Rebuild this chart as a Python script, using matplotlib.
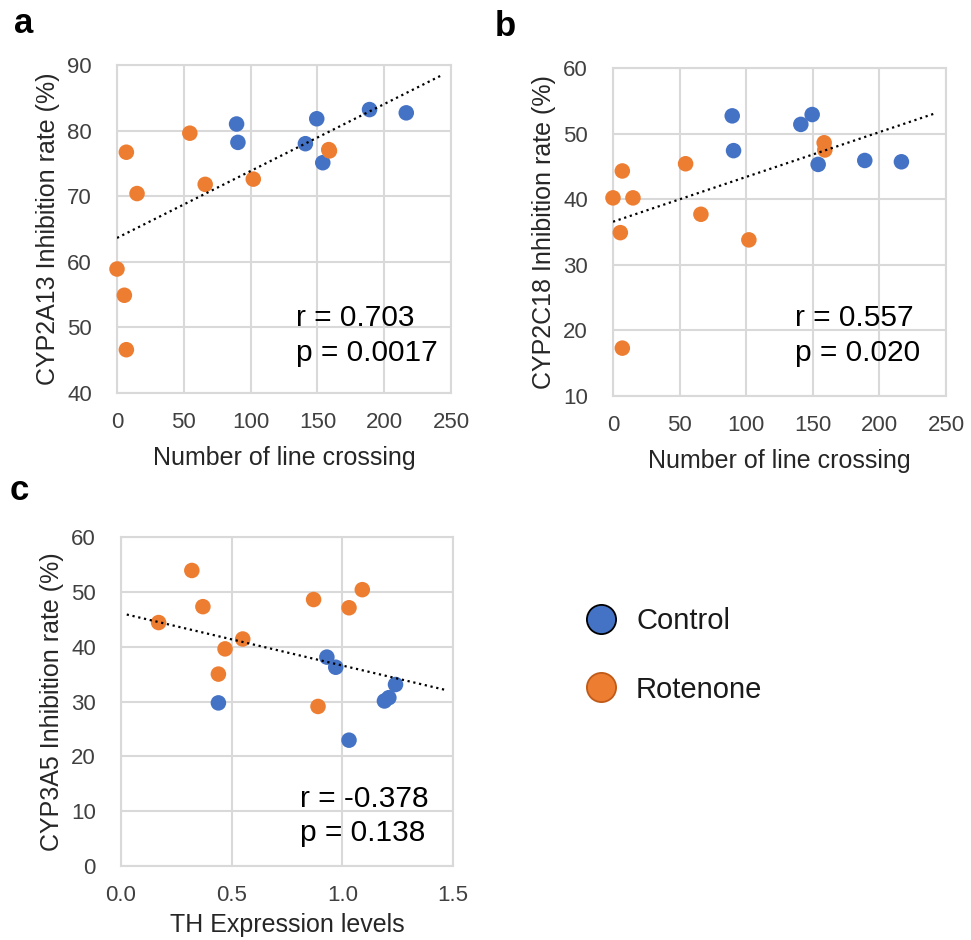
import numpy as np
import matplotlib.pyplot as plt
from matplotlib.lines import Line2D

plt.rcParams['font.family'] = ['Liberation Sans', 'DejaVu Sans']

# panels a and b share the line crossing counts
cross_ctrl = [89.5, 90.5, 141, 149.5, 154, 189, 216.5]
cross_rot = [0, 5.5, 7, 7, 15, 54.5, 66, 102, 158.5, 159]
cyp2a13_ctrl = [81.0, 78.2, 78.0, 81.8, 75.1, 83.2, 82.7]
cyp2a13_rot = [58.9, 54.9, 46.6, 76.7, 70.4, 79.6, 71.8, 72.6, 77.1, 76.9]
cyp2c18_ctrl = [52.7, 47.4, 51.4, 52.9, 45.3, 45.9, 45.7]
cyp2c18_rot = [40.2, 34.9, 17.3, 44.3, 40.2, 45.4, 37.7, 33.8, 48.6, 47.5]

# panel c
th_ctrl = [0.44, 0.93, 0.97, 1.03, 1.19, 1.21, 1.24]
cyp3a5_ctrl = [29.75, 38.1, 36.25, 22.95, 30.1, 30.7, 33.1]
th_rot = [0.17, 0.32, 0.37, 0.44, 0.47, 0.55, 0.87, 0.89, 1.03, 1.09]
cyp3a5_rot = [44.4, 53.9, 47.3, 35.0, 39.6, 41.4, 48.6, 29.1, 47.1, 50.4]

stats = ['r = 0.703\np = 0.0017', 'r = 0.557\np = 0.020', 'r = -0.378\np = 0.138']

blue = '#4472C4'
orange = '#ED7D31'
grid_c = '#D9D9D9'
tick_c = '#404040'

fig = plt.figure(figsize=(9.71, 9.40), dpi=100)

def panel(rect, xc, yc, xr, yr, xlim, xticks, ylim, yticks, xlab, ylab,
          fit_span, txt, txt_xy, letter, letter_xy, xfmt='%d', xpad=9):
    ax = fig.add_axes(rect)
    ax.set_xlim(*xlim)
    ax.set_ylim(*ylim)
    ax.set_xticks(xticks)
    ax.set_yticks(yticks)
    ax.set_xticklabels([xfmt % t for t in xticks])
    ax.grid(True, color=grid_c, lw=1.5)
    ax.set_axisbelow(True)
    for s in ax.spines.values():
        s.set_color(grid_c)
        s.set_linewidth(1.5)
    ax.tick_params(length=0, labelsize=16, colors=tick_c)
    ax.tick_params(axis='y', pad=18)
    ax.tick_params(axis='x', pad=14)
    ax.scatter(xc, yc, s=125, color=blue, edgecolors='none', zorder=3, clip_on=False)
    ax.scatter(xr, yr, s=125, color=orange, edgecolors='none', zorder=3, clip_on=False)
    # linear trend through all points
    allx = np.array(list(xc) + list(xr))
    ally = np.array(list(yc) + list(yr))
    k, b = np.polyfit(allx, ally, 1)
    lx = np.array(fit_span)
    ax.plot(lx, k * lx + b, ':', color='black', lw=1.6, zorder=4)
    ax.set_xlabel(xlab, fontsize=18, color='#262626', labelpad=xpad)
    ax.set_ylabel(ylab, fontsize=18, color='#262626', labelpad=5)
    ax.text(txt_xy[0], txt_xy[1], txt, transform=ax.transAxes, fontsize=21.5,
            ha='left', va='center', linespacing=1.3, color='black')
    fig.text(letter_xy[0], letter_xy[1], letter, fontsize=25, fontweight='bold',
             ha='left', va='center')
    return ax

panel([0.1205, 0.5819, 0.344, 0.349], cross_ctrl, cyp2a13_ctrl, cross_rot, cyp2a13_rot,
      (0, 250), [0, 50, 100, 150, 200, 250], (40, 90), [40, 50, 60, 70, 80, 90],
      'Number of line crossing', 'CYP2A13 Inhibition rate (%)',
      [0, 242], stats[0], (0.535, 0.175), 'a', (0.014, 0.975))

panel([0.6313, 0.5787, 0.343, 0.349], cross_ctrl, cyp2c18_ctrl, cross_rot, cyp2c18_rot,
      (0, 250), [0, 50, 100, 150, 200, 250], (10, 60), [10, 20, 30, 40, 50, 60],
      'Number of line crossing', 'CYP2C18 Inhibition rate (%)',
      [0, 243], stats[1], (0.545, 0.185), 'b', (0.51, 0.972))

panel([0.1246, 0.0787, 0.342, 0.350], th_ctrl, cyp3a5_ctrl, th_rot, cyp3a5_rot,
      (0, 1.5), [0, 0.5, 1.0, 1.5], (0, 60), [0, 10, 20, 30, 40, 50, 60],
      'TH Expression levels', 'CYP3A5 Inhibition rate (%)',
      [0.026, 1.473], stats[2], (0.54, 0.152), 'c', (0.01, 0.478), xfmt='%.1f', xpad=5)

handles = [Line2D([], [], ls='none', marker='o', ms=21, mfc=blue, mec='black', mew=1.3),
           Line2D([], [], ls='none', marker='o', ms=21, mfc=orange, mec='#C05A18', mew=1.3)]
fig.legend(handles, ['Control', 'Rotenone'], loc='center left',
           bbox_to_anchor=(0.577, 0.303), frameon=False, fontsize=21,
           labelspacing=1.4, handletextpad=0.7, handlelength=1.0, labelcolor='#1a1a1a')

fig.savefig('out.png', dpi=100)
